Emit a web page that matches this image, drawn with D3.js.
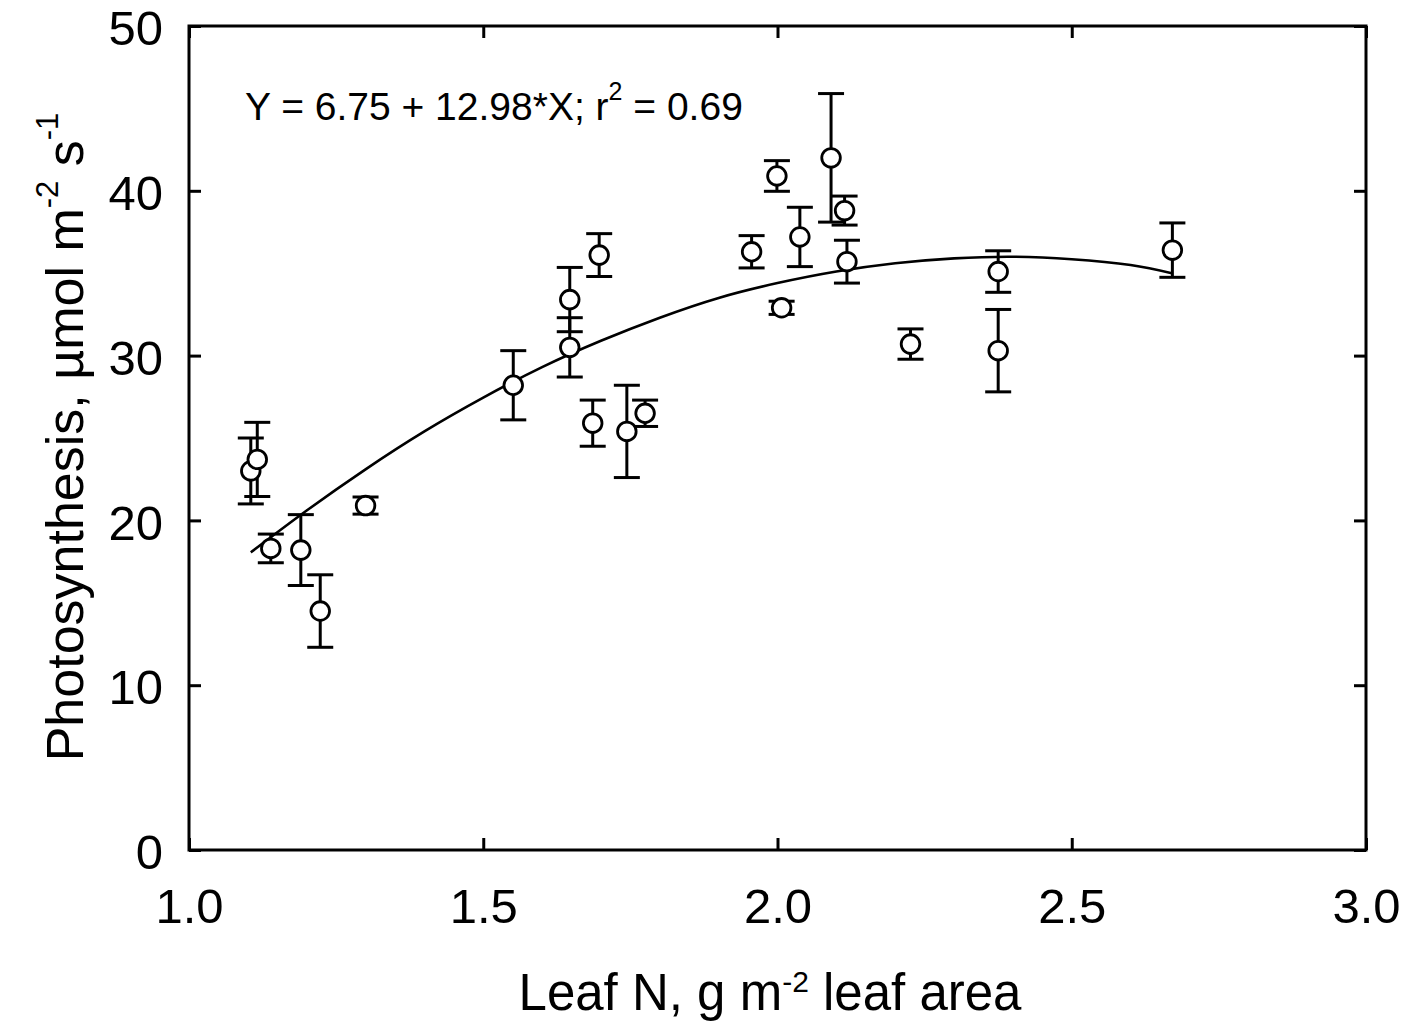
<!DOCTYPE html>
<html>
<head>
<meta charset="utf-8">
<script src="https://cdn.jsdelivr.net/npm/d3@7"></script>
<style>
  html, body { margin: 0; padding: 0; background: #fff; }
  svg { display: block; }
  text { font-family: "Liberation Sans", Arial, sans-serif; fill: #000; }
</style>
</head>
<body>
<svg id="chart" width="1409" height="1027"></svg>
<script>
// ---- data ----
const leafN  = [1.105, 1.116, 1.139, 1.190, 1.223, 1.300, 1.551, 1.647, 1.647, 1.697, 1.686, 1.744, 1.775,
                1.956, 1.999, 2.007, 2.038, 2.091, 2.114, 2.118, 2.226, 2.375, 2.375, 2.671];
const photo  = [23.0, 23.7, 18.3, 18.2, 14.5, 20.9, 28.2, 30.5, 33.4, 36.1, 25.9, 25.4, 26.5,
                36.3, 40.9, 32.9, 37.2, 42.0, 38.8, 35.7, 30.7, 35.1, 30.3, 36.4];
const stdErr = [2.0, 2.25, 0.87, 2.15, 2.2, 0.52, 2.1, 1.8, 1.95, 1.3, 1.4, 2.8, 0.8,
                0.98, 0.93, 0.4, 1.8, 3.9, 0.88, 1.3, 0.92, 1.26, 2.5, 1.65];

// fitted curve
const fitX = [1.105, 1.2, 1.3, 1.4, 1.5, 1.6, 1.7, 1.8, 1.9, 2.0, 2.1, 2.2, 2.3, 2.4, 2.5, 2.6, 2.67];
const fitY = [18.06, 20.6, 23.1, 25.4, 27.45, 29.3, 30.9, 32.3, 33.5, 34.4, 35.1, 35.6, 35.9, 36.0, 35.85, 35.5, 35.0];

const xTicks = [1.0, 1.5, 2.0, 2.5, 3.0];
const yTicks = [0, 10, 20, 30, 40, 50];

// ---- layout ----
const svg = d3.select("#chart");
const L = 189, R = 1366, T = 26, B = 850;
const x = d3.scaleLinear().domain([1, 3]).range([L, R]);
const y = d3.scaleLinear().domain([0, 50]).range([B, T]);

const TL = 12;
const tickStyle = g => {
  g.select(".domain").remove();
  g.selectAll(".tick line").attr("stroke", "#000").attr("stroke-width", 3);
  g.selectAll(".tick text").style("font-family", '"Liberation Sans", Arial, sans-serif')
    .attr("font-size", 49).attr("fill", "#000");
};

svg.append("g").attr("transform", `translate(${L},0)`)
  .call(d3.axisLeft(y).tickValues(yTicks).tickSize(-TL).tickPadding(26).tickFormat(d3.format("d")))
  .call(tickStyle)
  .call(g => g.selectAll(".tick text").attr("dy", "0.38em"));
svg.append("g").attr("transform", `translate(${R},0)`)
  .call(d3.axisRight(y).tickValues(yTicks).tickSize(-TL).tickFormat(""))
  .call(tickStyle);
svg.append("g").attr("transform", `translate(0,${B})`)
  .call(d3.axisBottom(x).tickValues(xTicks).tickSize(-TL).tickPadding(38).tickFormat(d3.format(".1f")))
  .call(tickStyle);
svg.append("g").attr("transform", `translate(0,${T})`)
  .call(d3.axisTop(x).tickValues(xTicks).tickSize(-TL).tickFormat(""))
  .call(tickStyle);

// frame
svg.append("rect").attr("x", L).attr("y", T).attr("width", R - L).attr("height", B - T)
  .attr("fill", "none").attr("stroke", "#000").attr("stroke-width", 3);

// fitted curve
const fit = fitX.map((v, i) => [v, fitY[i]]);
svg.append("path").datum(fit)
  .attr("fill", "none").attr("stroke", "#000").attr("stroke-width", 2.6)
  .attr("d", d3.line().x(d => x(d[0])).y(d => y(d[1])).curve(d3.curveNatural));

// error bars and points
const pts = leafN.map((v, i) => ({ x: v, y: photo[i], e: stdErr[i] }));
const cap = 13;
const eb = svg.append("g").attr("stroke", "#000").attr("stroke-width", 3);
pts.forEach(p => {
  const cx = x(p.x), yt = y(p.y + p.e), yb = y(p.y - p.e);
  eb.append("line").attr("x1", cx).attr("x2", cx).attr("y1", yt).attr("y2", yb);
  eb.append("line").attr("x1", cx - cap).attr("x2", cx + cap).attr("y1", yt).attr("y2", yt);
  eb.append("line").attr("x1", cx - cap).attr("x2", cx + cap).attr("y1", yb).attr("y2", yb);
});
svg.append("g").selectAll("circle").data(pts).join("circle")
  .attr("cx", d => x(d.x)).attr("cy", d => y(d.y)).attr("r", 9.3)
  .attr("fill", "#fff").attr("stroke", "#000").attr("stroke-width", 2.8);

// equation
const eq = svg.append("text").attr("x", 245).attr("y", 120).attr("font-size", 39);
eq.append("tspan").text("Y = 6.75 + 12.98*X; r");
eq.append("tspan").attr("font-size", 25).attr("dy", -20).text("2");
eq.append("tspan").attr("dy", 20).text(" = 0.69");

// x title
const xt = svg.append("text").attr("x", 770).attr("y", 1010).attr("text-anchor", "middle").attr("font-size", 51);
xt.append("tspan").text("Leaf N, g m");
xt.append("tspan").attr("font-size", 30).attr("dy", -18).text("-2");
xt.append("tspan").attr("dy", 18).text(" leaf area");

// y title
const yt = svg.append("text").attr("transform", "translate(83,437) rotate(-90)")
  .attr("text-anchor", "middle").attr("font-size", 52);
yt.append("tspan").text("Photosynthesis, µmol m");
yt.append("tspan").attr("font-size", 31).attr("dy", -25).text("-2");
yt.append("tspan").attr("dy", 25).text(" s");
yt.append("tspan").attr("font-size", 31).attr("dy", -25).text("-1");
</script>
</body>
</html>
